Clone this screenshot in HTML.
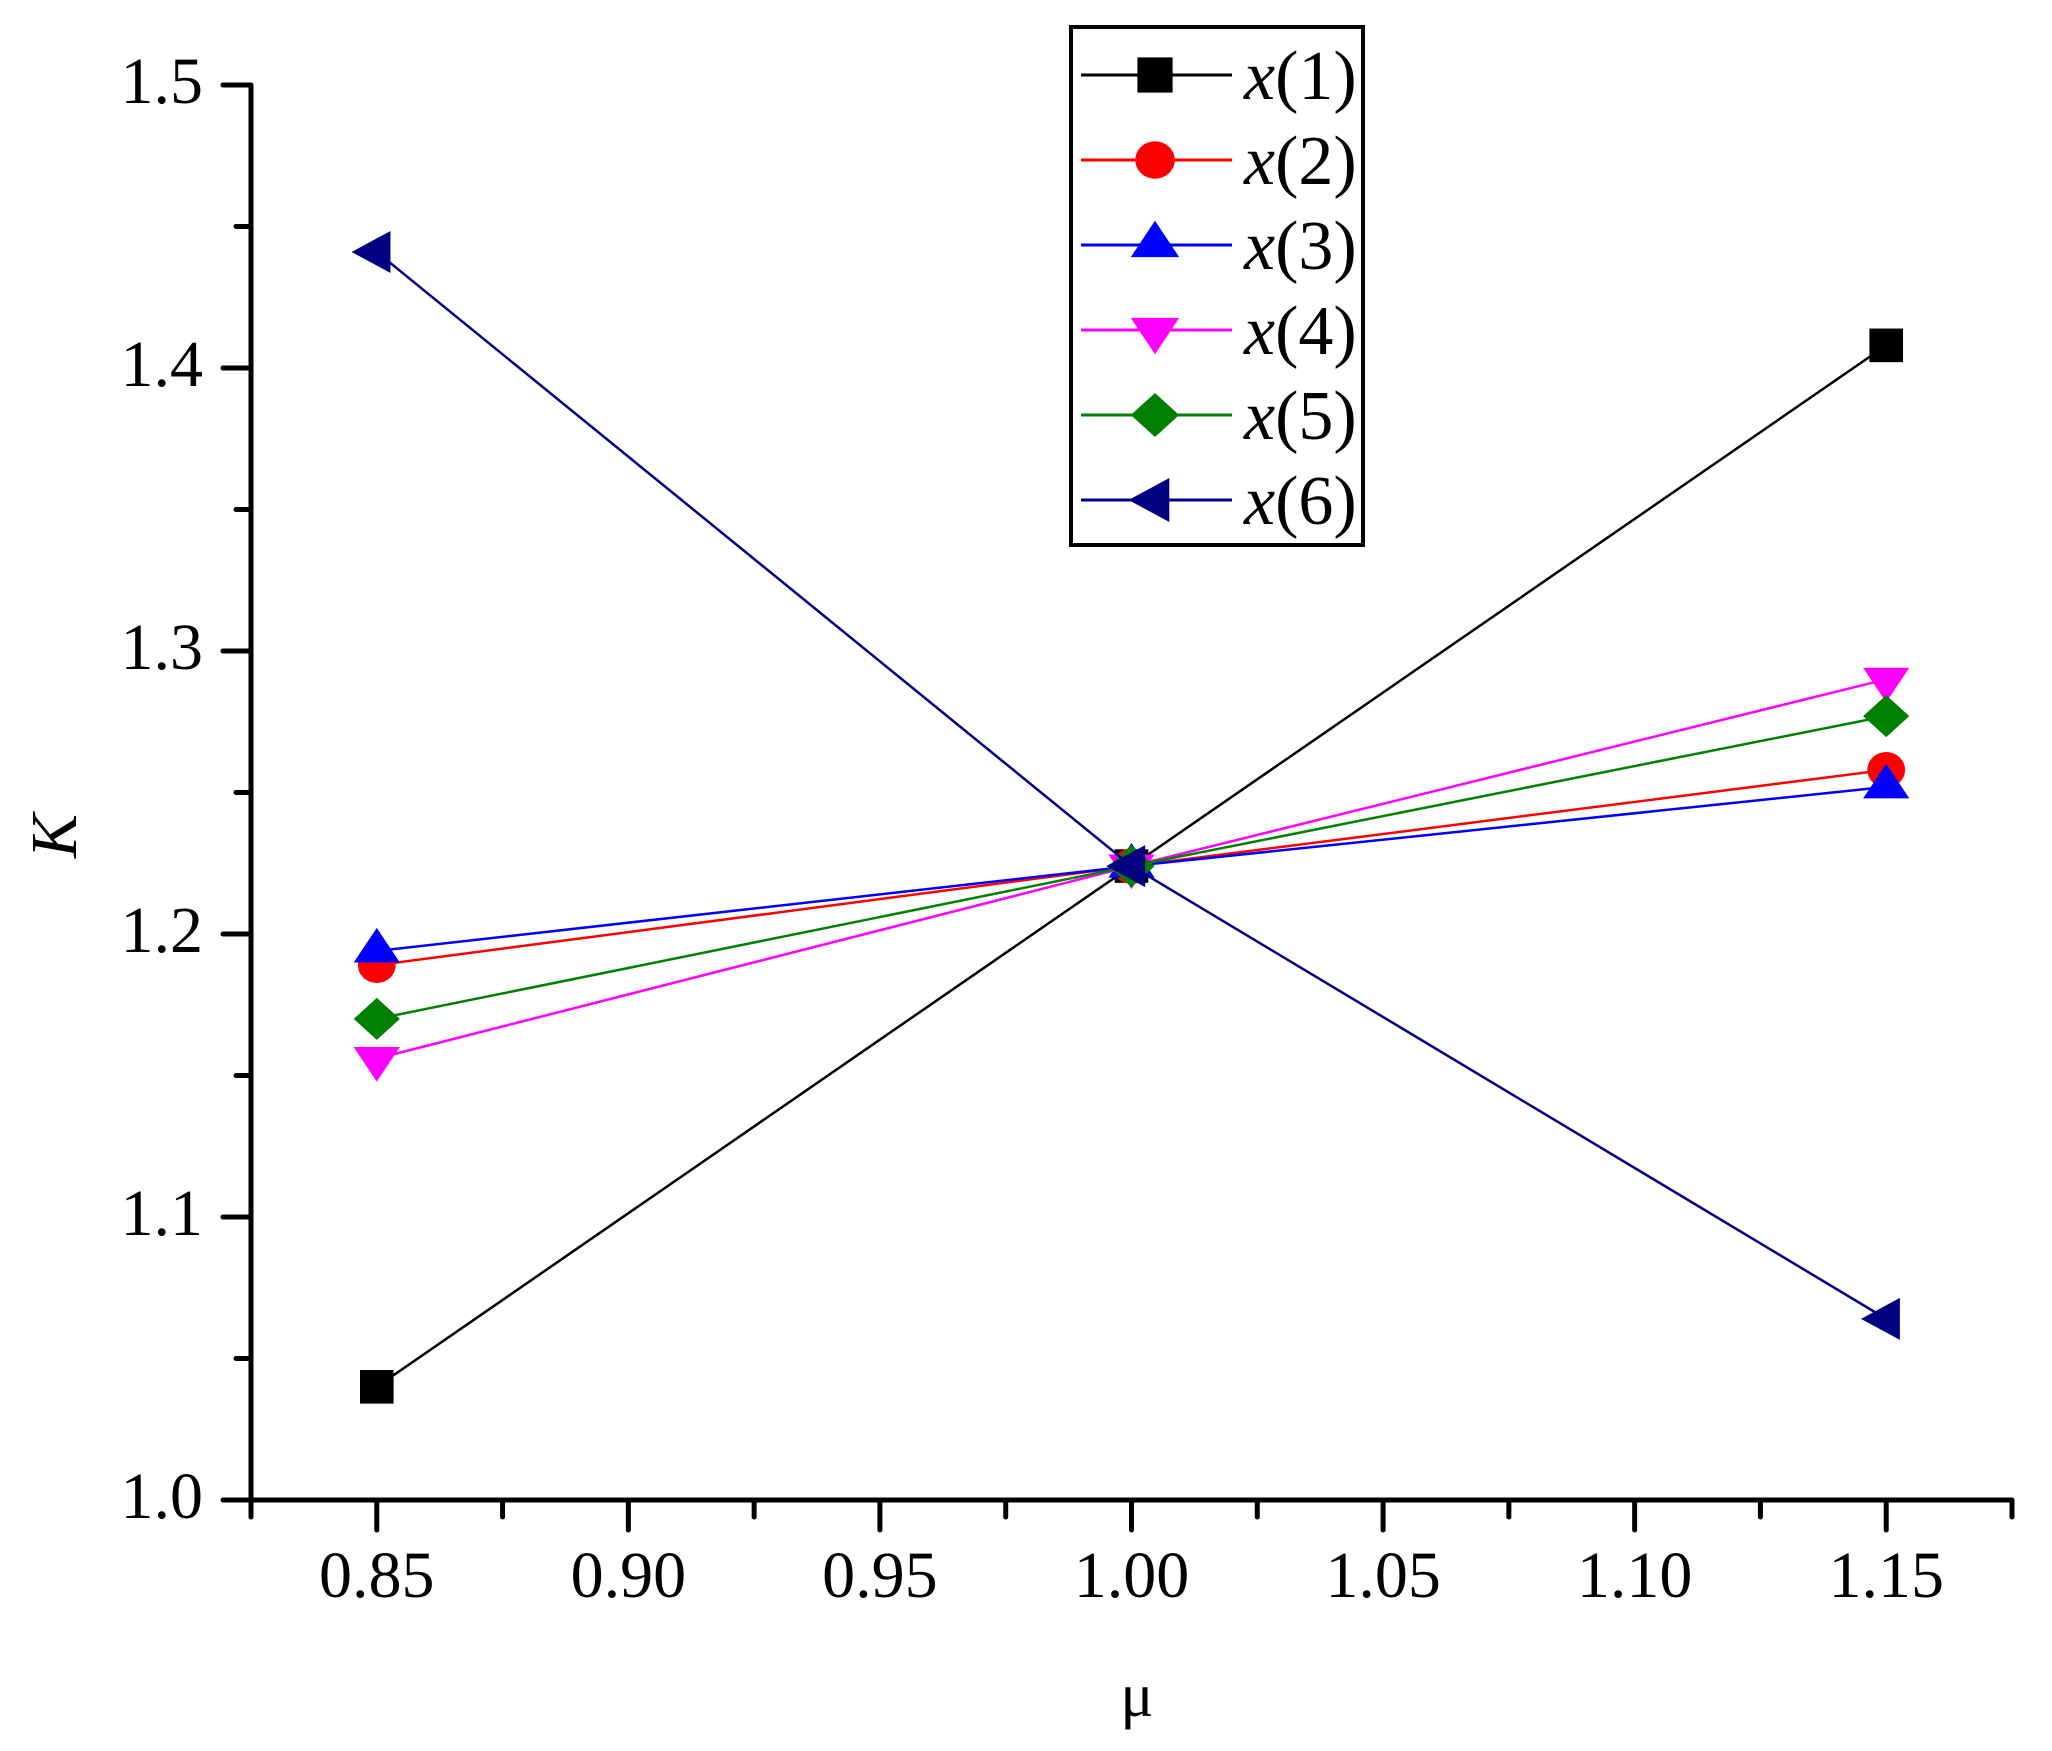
<!DOCTYPE html>
<html>
<head>
<meta charset="utf-8">
<style>
  html,body{margin:0;padding:0;background:#fff;}
  svg{display:block;}
  text{font-family:"Liberation Serif",serif;fill:#000;}
</style>
</head>
<body>
<svg id="chart" width="2052" height="1751" viewBox="0 0 2052 1751" xmlns="http://www.w3.org/2000/svg">
  <g id="axes"></g>
  <g id="series"></g>
  <g id="legend"></g>
  <text x="1137" y="1716" font-size="62" text-anchor="middle">μ</text>
  <text x="0" y="0" font-size="66" font-style="italic" text-anchor="middle" transform="translate(76,836) rotate(-90)">K</text>
</svg>
<script>
const categories = [0.85, 1.00, 1.15];
const seriesNames = ["x(1)", "x(2)", "x(3)", "x(4)", "x(5)", "x(6)"];
const x1 = [1.040, 1.224, 1.408];
const x2 = [1.189, 1.224, 1.258];
const x3 = [1.194, 1.224, 1.252];
const x4 = [1.156, 1.224, 1.290];
const x5 = [1.170, 1.224, 1.277];
const x6 = [1.441, 1.224, 1.064];
const xTickLabels = ["0.85", "0.90", "0.95", "1.00", "1.05", "1.10", "1.15"];
const yTickLabels = ["1.0", "1.1", "1.2", "1.3", "1.4", "1.5"];

const NS = "http://www.w3.org/2000/svg";
const X0 = 251, X1 = 2012, XMIN = 0.825, XMAX = 1.175;
const Y0 = 1500, Y1 = 85, YMIN = 1.0, YMAX = 1.5;
function sx(v){ return X0 + (v - XMIN) / (XMAX - XMIN) * (X1 - X0); }
function sy(v){ return Y0 - (v - YMIN) / (YMAX - YMIN) * (Y0 - Y1); }
function mk(tag, attrs, parent){
  const e = document.createElementNS(NS, tag);
  for (const k in attrs) e.setAttribute(k, attrs[k]);
  parent.appendChild(e);
  return e;
}

const axes = document.getElementById('axes');
let el;
el = mk('line', {x1:X0, y1:Y1, x2:X0, y2:Y0+2, stroke:'#000','stroke-width':5}, axes);


el = mk('line', {x1:222, y1:Y0, x2:X1, y2:Y0, stroke:'#000','stroke-width':5}, axes);



for (let i = 0; i <= 14; i++) {
  const v = 0.825 + i * 0.025;
  const major = (i % 2 === 1);
  const x = sx(v);
  el = mk('line', {x1:x, y1:Y0, x2:x, y2:Y0 + (major ? 30 : 17), stroke:'#000','stroke-width':5,'stroke-linecap':'round'}, axes);
  
  
}
xTickLabels.forEach(function(lbl){
  const t = mk('text', {x:sx(parseFloat(lbl)), y:1597, 'font-size':66, 'text-anchor':'middle'}, axes);
  t.textContent = lbl;
  
  
});
for (let i = 0; i <= 10; i++) {
  const v = 1.0 + i * 0.05;
  const major = (i % 2 === 0);
  const y = sy(v);
  el = mk('line', {x1:X0, y1:y, x2:X0 - (major ? 28 : 15), y2:y, stroke:'#000','stroke-width':5,'stroke-linecap':'round'}, axes);
  
  
}
yTickLabels.forEach(function(lbl){
  const t = mk('text', {x:203, y:sy(parseFloat(lbl)) + 18, 'font-size':66, 'text-anchor':'end'}, axes);
  t.textContent = lbl;
  
  
});

const colors = ["#000000", "#ff0000", "#0000ff", "#ff00ff", "#008000", "#000080"];
const shapes = ["square", "circle", "up", "down", "diamond", "left"];
const allSeries = [x1, x2, x3, x4, x5, x6];

function marker(shape, cx, cy, color, parent, s){
  let m;
  if (shape === 'square') m = mk('rect', {x:cx-16*s, y:cy-16*s, width:32*s, height:32*s, fill:color}, parent);
  else if (shape === 'circle') m = mk('ellipse', {cx:cx, cy:cy, rx:18*s, ry:17*s, fill:color}, parent);
  else if (shape === 'up') m = mk('polygon', {points:`${cx},${cy-22*s} ${cx+22*s},${cy+11*s} ${cx-22*s},${cy+11*s}`, fill:color}, parent);
  else if (shape === 'down') m = mk('polygon', {points:`${cx},${cy+22*s} ${cx+22*s},${cy-11*s} ${cx-22*s},${cy-11*s}`, fill:color}, parent);
  else if (shape === 'diamond') m = mk('polygon', {points:`${cx},${cy-20*s} ${cx+22*s},${cy} ${cx},${cy+20*s} ${cx-22*s},${cy}`, fill:color}, parent);
  else m = mk('polygon', {points:`${cx-24*s},${cy} ${cx+13*s},${cy-20*s} ${cx+13*s},${cy+20*s}`, fill:color}, parent);
  return m;
}

const sg = document.getElementById('series');
allSeries.forEach(function(vals, si){
  const g = mk('g', {}, sg);
  
  
  const pts = vals.map(function(v, i){ return sx(categories[i]) + ',' + sy(v); }).join(' ');
  const pl = mk('polyline', {points:pts, fill:'none', stroke:colors[si], 'stroke-width':2.5}, g);
  
  
  vals.forEach(function(v, i){
    const m = marker(shapes[si], sx(categories[i]), sy(v), colors[si], g, 1.05);
    
    
  });
});

const lg = document.getElementById('legend');
el = mk('rect', {x:1071, y:27, width:292, height:518, fill:'#fff', stroke:'#000', 'stroke-width':4}, lg);


seriesNames.forEach(function(name, si){
  const cy = 75 + si * 85;
  const g = mk('g', {}, lg);
  
  
  mk('line', {x1:1081, y1:cy, x2:1232, y2:cy, stroke:colors[si], 'stroke-width':3}, g);
  marker(shapes[si], 1155, cy, colors[si], g, 1.1);
  const t = mk('text', {x:1244, y:cy + 24, 'font-size':70}, g);
  const it = mk('tspan', {'font-style':'italic'}, t);
  it.textContent = 'x';
  const rest = mk('tspan', {}, t);
  rest.textContent = name.slice(1);
});
</script>
</body>
</html>
